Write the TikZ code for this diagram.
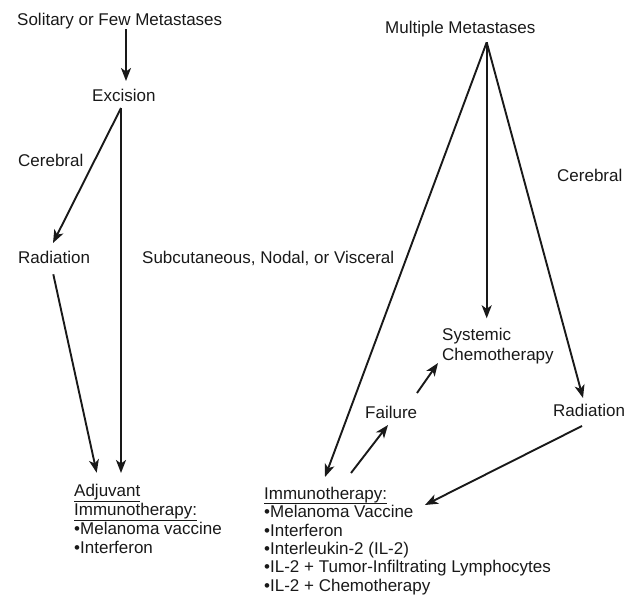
\documentclass[tikz,border=0pt]{standalone}
\usepackage{fontspec}
\setmainfont{Liberation Sans}
\usetikzlibrary{arrows.meta}
\newcommand{\ulin}[1]{\setbox0\hbox{#1}\rlap{\rule[-5pt]{\wd0}{1pt}}\box0}
\tikzset{
  lbl/.style={anchor=base west, inner sep=0pt, font=\fontsize{17}{18.4}\selectfont, text=black!90},
  conn/.style={line width=1.9pt, black!90, -{Stealth[length=13pt,width=10pt,inset=3.5pt]}},
}
\begin{document}
\begin{tikzpicture}[x=1pt,y=-1pt]
\useasboundingbox (0,0) rectangle (638,597);
% left branch
\node[lbl] (solitary) at (17,25.7) {Solitary or Few Metastases};
\node[lbl] (excision) at (92,101) {Excision};
\node[lbl] (cerebralL) at (18,166) {Cerebral};
\node[lbl] (radL) at (18,263) {Radiation};
\node[lbl] (subcut) at (142,263) {Subcutaneous, Nodal, or Visceral};
\node[lbl] (adjuvant) at (74,496.7) {\fontsize{17}{19}\selectfont\begin{tabular}[t]{@{}l@{}}\ulin{Adjuvant}\\ \ulin{Immunotherapy:}\\ •Melanoma vaccine\\ •Interferon\end{tabular}};
% right branch
\node[lbl] (multiple) at (385,33) {Multiple Metastases};
\node[lbl] (cerebralR) at (557,181.7) {Cerebral};
\node[lbl] (systemic) at (442,340.7) {\fontsize{17}{19.3}\selectfont\begin{tabular}[t]{@{}l@{}}Systemic\\ Chemotherapy\end{tabular}};
\node[lbl] (failure) at (365,418) {Failure};
\node[lbl] (radR) at (553,416) {Radiation};
\node[lbl] (immuno) at (264,499.3) {\fontsize{17}{18.4}\selectfont\begin{tabular}[t]{@{}l@{}}\ulin{Immunotherapy:}\\ •Melanoma Vaccine\\ •Interferon\\ •Interleukin-2 (IL-2)\\ •IL-2 + Tumor-Infiltrating Lymphocytes\\ •IL-2 + Chemotherapy\end{tabular}};
% connector end points
\coordinate (solitary-out) at (126,29);
\coordinate (excision-in) at (126,81);
\coordinate (excision-out) at (121,108);
\coordinate (radL-in) at (53,243);
\coordinate (radL-out) at (53.3,274.3);
\coordinate (adj-in1) at (96.7,472.7);
\coordinate (adj-in2) at (121,473);
\coordinate (multiple-out) at (486.7,42.3);
\coordinate (immuno-in1) at (325,477);
\coordinate (systemic-in) at (486.7,318.3);
\coordinate (radR-in) at (583,398);
\coordinate (radR-out) at (582,426);
\coordinate (immuno-in2) at (425,505);
\coordinate (immuno-out) at (351,473);
\coordinate (failure-in) at (388,425);
\coordinate (failure-out) at (417,393);
\coordinate (systemic-in2) at (438,363);
% connectors
\draw[conn] (solitary-out) -- (excision-in);
\draw[conn] (excision-out) -- (adj-in2);
\draw[conn] (excision-out) -- (radL-in);
\draw[conn] (radL-out) -- (adj-in1);
\draw[conn] (multiple-out) -- (immuno-in1);
\draw[conn] (multiple-out) -- (systemic-in);
\draw[conn] (multiple-out) -- (radR-in);
\draw[conn] (radR-out) -- (immuno-in2);
\draw[conn] (immuno-out) -- (failure-in);
\draw[conn] (failure-out) -- (systemic-in2);
\end{tikzpicture}
\end{document}
